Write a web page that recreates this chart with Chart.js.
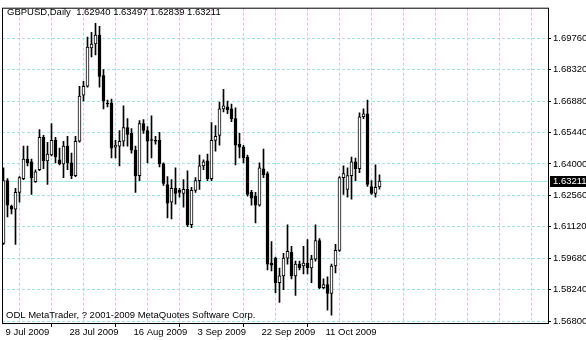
<!DOCTYPE html>
<html>
<head>
<meta charset="utf-8">
<script src="https://cdn.jsdelivr.net/npm/chart.js@4.4.0/dist/chart.umd.min.js"></script>
<style>
html, body { margin: 0; padding: 0; background: #fff; }
</style>
</head>
<body>
<canvas id="chart" width="586" height="340"></canvas>
<script>
var symbol = 'GBPUSD,Daily';
var copyright = 'ODL MetaTrader, ? 2001-2009 MetaQuotes Software Corp.';

// daily bars, one per trading day (index 0 = 9 Jul 2009)
var openPrices = [
    1.60355, 1.63235, 1.62065, 1.6193, 1.62695, 1.63325, 1.64225, 1.6409, 1.6319, 1.6373,
    1.65215, 1.64135, 1.64405, 1.6508, 1.6418, 1.64, 1.6481, 1.64045, 1.6346, 1.65035,
    1.6715, 1.67555, 1.6931, 1.6949, 1.69895, 1.6805, 1.6679, 1.6679, 1.64765, 1.6481,
    1.65035, 1.65665, 1.65395, 1.6463, 1.6346, 1.65845, 1.6553, 1.6509, 1.6508, 1.6508,
    1.64, 1.63055, 1.62245, 1.62875, 1.62785, 1.6265, 1.6283, 1.6121, 1.62785, 1.63235,
    1.6391, 1.64135, 1.63325, 1.6508, 1.65305, 1.6652, 1.6661, 1.6652, 1.6607, 1.649,
    1.64765, 1.64315, 1.62695, 1.62515, 1.6211, 1.63775, 1.6355, 1.59455, 1.5968, 1.58555,
    1.5887, 1.5968, 1.5995, 1.5887, 1.5941, 1.5932, 1.59455, 1.5923, 1.59635, 1.6049,
    1.5833, 1.58465, 1.5806, 1.5932, 1.6004, 1.6337, 1.6283, 1.6346, 1.6409, 1.63775,
    1.6616, 1.66295, 1.62965, 1.6265, 1.6294
];
var highPrices = [
    1.6382, 1.63325, 1.6211, 1.62875, 1.63415, 1.6481, 1.6481, 1.64225, 1.6373, 1.65575,
    1.65305, 1.6499, 1.65845, 1.65215, 1.6472, 1.65035, 1.6526, 1.64495, 1.6526, 1.67555,
    1.6778, 1.69805, 1.7003, 1.70435, 1.703, 1.6832, 1.66925, 1.6697, 1.6508, 1.6553,
    1.66655, 1.6607, 1.6562, 1.6481, 1.6598, 1.66025, 1.6571, 1.66205, 1.6526, 1.6544,
    1.64045, 1.63415, 1.6328, 1.6382, 1.62875, 1.6328, 1.63685, 1.6292, 1.6337, 1.64405,
    1.6418, 1.6445, 1.6589, 1.65755, 1.66835, 1.6742, 1.6688, 1.66745, 1.66565, 1.65395,
    1.64855, 1.64405, 1.62785, 1.62695, 1.64045, 1.64675, 1.6364, 1.60445, 1.59725, 1.5923,
    1.59905, 1.6121, 1.6022, 1.59545, 1.59545, 1.6022, 1.60535, 1.59815, 1.6121, 1.6058,
    1.58735, 1.58825, 1.5941, 1.6031, 1.63415, 1.6391, 1.6382, 1.64315, 1.6427, 1.6634,
    1.6652, 1.66925, 1.63235, 1.63955, 1.63497
];
var lowPrices = [
    1.6031, 1.6157, 1.61705, 1.6031, 1.62245, 1.6328, 1.6391, 1.62605, 1.63145, 1.63685,
    1.63775, 1.63055, 1.6436, 1.64045, 1.63955, 1.6337, 1.6373, 1.63325, 1.63415, 1.6499,
    1.6688, 1.6751, 1.68905, 1.68995, 1.6751, 1.6652, 1.6661, 1.6427, 1.6427, 1.6391,
    1.6481, 1.6481, 1.64495, 1.62695, 1.63235, 1.65395, 1.64045, 1.6427, 1.649, 1.63865,
    1.6301, 1.61525, 1.6148, 1.62155, 1.6247, 1.6202, 1.6112, 1.61075, 1.62695, 1.6283,
    1.6373, 1.63235, 1.63235, 1.64585, 1.64855, 1.66385, 1.66295, 1.65935, 1.63955, 1.6427,
    1.64045, 1.62515, 1.6211, 1.613, 1.62065, 1.6337, 1.5914, 1.59095, 1.58105, 1.57655,
    1.5824, 1.5941, 1.58735, 1.5797, 1.5914, 1.5896, 1.5896, 1.58555, 1.59545, 1.58285,
    1.58285, 1.57295, 1.5707, 1.59005, 1.59995, 1.62605, 1.6247, 1.6238, 1.63235, 1.63595,
    1.6607, 1.62965, 1.62605, 1.6247, 1.62839
];
var closePrices = [
    1.63235, 1.6211, 1.6193, 1.62695, 1.6337, 1.64225, 1.64045, 1.6337, 1.6364, 1.65215,
    1.64135, 1.6445, 1.6508, 1.64315, 1.64, 1.6481, 1.64045, 1.6346, 1.65035, 1.67105,
    1.67555, 1.69355, 1.6949, 1.69895, 1.68005, 1.6688, 1.66745, 1.6472, 1.64855, 1.65035,
    1.65665, 1.6535, 1.6463, 1.6346, 1.65845, 1.6553, 1.65035, 1.6507, 1.65035, 1.64,
    1.631, 1.622, 1.62875, 1.6265, 1.62695, 1.6283, 1.6121, 1.62785, 1.63235, 1.6391,
    1.6409, 1.63325, 1.6508, 1.6526, 1.6652, 1.66655, 1.66475, 1.6607, 1.64855, 1.64765,
    1.6427, 1.62605, 1.62425, 1.6211, 1.6382, 1.63505, 1.5941, 1.59365, 1.58555, 1.5887,
    1.5968, 1.59995, 1.5887, 1.5941, 1.5923, 1.59455, 1.5923, 1.59635, 1.6049, 1.5833,
    1.58465, 1.5806, 1.5932, 1.6004, 1.6337, 1.6355, 1.6346, 1.6409, 1.63775, 1.6616,
    1.66295, 1.63055, 1.6265, 1.6292, 1.63211
];

var tickIndex = [0, 16, 32, 48, 64, 80];
var tickLabels = ['9 Jul 2009', '28 Jul 2009', '16 Aug 2009', '3 Sep 2009', '22 Sep 2009', '11 Oct 2009'];
var gridIndex = [0, 8, 16, 24, 32, 40, 48, 56, 64, 72, 80, 88, 96, 104, 112, 120, 128, 136];
var yTicks = [1.56800, 1.58240, 1.59680, 1.61120, 1.62560, 1.64000, 1.65440, 1.66880, 1.68320, 1.69760];

var FONT = '"Liberation Sans", Arial, sans-serif';
var GRID = '#a6e0e0';

var wickData = [];
var bodyData = [];
for (var i = 0; i < openPrices.length; i++) {
    wickData.push({x: i, y: [lowPrices[i], highPrices[i]]});
    bodyData.push({x: i, y: [openPrices[i], closePrices[i]]});
}

function isBear(ctx) {
    var i = ctx.dataIndex;
    return closePrices[i] < openPrices[i];
}

var mtPlugin = {
    id: 'mt',
    beforeDraw: function (chart) {
        var c = chart.ctx;
        c.save();
        c.fillStyle = '#fff';
        c.fillRect(0, 0, chart.width, chart.height);
        c.restore();
    },
    beforeDatasetsDraw: function (chart) {
        var c = chart.ctx, a = chart.chartArea;
        var last = closePrices[closePrices.length - 1];
        var py = Math.round(chart.scales.y.getPixelForValue(last)) + 0.5;
        c.save();
        c.strokeStyle = '#a4ecec';
        c.lineWidth = 1;
        c.beginPath();
        c.moveTo(a.left, py);
        c.lineTo(a.right, py);
        c.stroke();
        c.restore();
    },
    afterDraw: function (chart) {
        var c = chart.ctx, a = chart.chartArea;
        var n = closePrices.length - 1;
        c.save();
        // frame
        c.strokeStyle = '#000';
        c.lineWidth = 1;
        c.strokeRect(a.left + 0.5, a.top + 0.5, a.right - a.left, a.bottom - a.top);
        c.font = '9.5px ' + FONT;
        c.fillStyle = '#000';
        c.textBaseline = 'alphabetic';
        c.textAlign = 'left';
        c.fillText(symbol + '  ' + openPrices[n].toFixed(5) + ' ' + highPrices[n].toFixed(5) + ' ' +
            lowPrices[n].toFixed(5) + ' ' + closePrices[n].toFixed(5), 7, 15);
        c.fillText(copyright, 6, 318);
        // bid label
        var py = Math.round(chart.scales.y.getPixelForValue(closePrices[n]));
        c.fillStyle = '#000';
        c.fillRect(550, py - 5, 36, 11);
        c.fillStyle = '#fff';
        c.textBaseline = 'middle';
        c.fillText(closePrices[n].toFixed(5), 553, py + 0.5);
        c.restore();
    }
};

new Chart(document.getElementById('chart'), {
    type: 'bar',
    data: {
        datasets: [{
            data: bodyData,
            grouped: false,
            barThickness: 3,
            minBarLength: 1,
            borderWidth: 1,
            borderSkipped: false,
            borderColor: '#000',
            backgroundColor: function (ctx) { return isBear(ctx) ? '#000' : '#fff'; }
        }, {
            data: wickData,
            grouped: false,
            barThickness: 1,
            borderWidth: 0,
            backgroundColor: '#000'
        }]
    },
    options: {
        responsive: false,
        animation: false,
        events: [],
        layout: {padding: {left: 2, top: 2, right: 0, bottom: 0}},
        plugins: {legend: {display: false}, tooltip: {enabled: false}},
        scales: {
            x: {
                type: 'linear',
                offset: false,
                min: -0.375,
                max: 136.125,
                afterBuildTicks: function (scale) {
                    scale.ticks = gridIndex.map(function (v) { return {value: v}; });
                },
                afterFit: function (scale) { scale.height = 17; },
                border: {display: false, dash: [3, 2]},
                grid: {
                    color: GRID,
                    tickLength: 4,
                    tickBorderDash: [],
                    tickColor: function (ctx) {
                        return ctx.tick && tickIndex.indexOf(ctx.tick.value) >= 0 ? '#000' : 'rgba(0,0,0,0)';
                    }
                },
                ticks: {
                    autoSkip: false,
                    maxRotation: 0,
                    align: 'start',
                    labelOffset: 2,
                    padding: 0,
                    color: '#000',
                    font: {family: FONT, size: 9.5},
                    callback: function (value) {
                        var k = tickIndex.indexOf(value);
                        return k >= 0 ? tickLabels[k] : '';
                    }
                }
            },
            y: {
                position: 'right',
                min: 1.5671,
                max: 1.71155,
                afterBuildTicks: function (scale) {
                    scale.ticks = yTicks.map(function (v) { return {value: v}; });
                },
                afterFit: function (scale) { scale.width = 38; },
                border: {display: false, dash: [3, 2]},
                grid: {
                    color: GRID,
                    tickLength: 3,
                    tickBorderDash: [],
                    tickColor: '#000'
                },
                ticks: {
                    autoSkip: false,
                    padding: 2,
                    color: '#000',
                    font: {family: FONT, size: 9.5},
                    callback: function (value) { return Number(value).toFixed(5); }
                }
            }
        }
    },
    plugins: [mtPlugin]
});
</script>
</body>
</html>
